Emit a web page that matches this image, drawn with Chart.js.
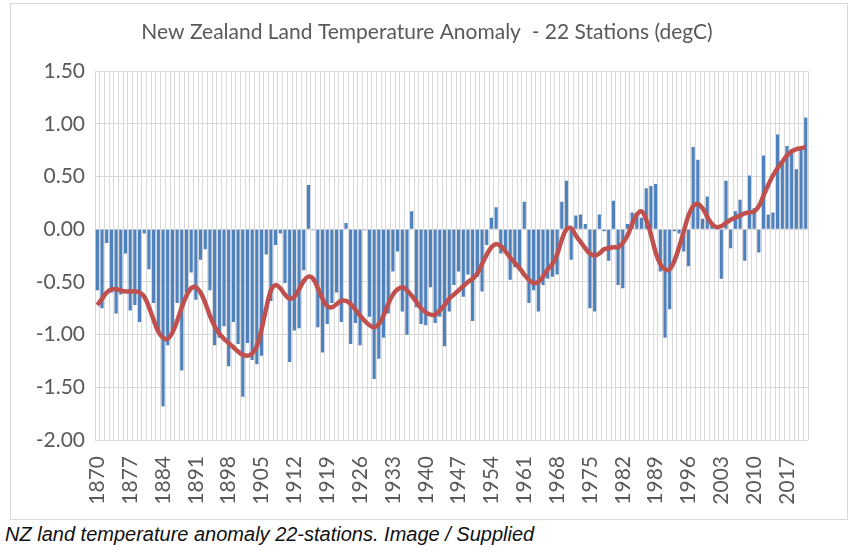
<!DOCTYPE html>
<html><head><meta charset="utf-8">
<script src="https://cdn.jsdelivr.net/npm/chart.js@4.4.0/dist/chart.umd.min.js"></script>
<style>
html,body{margin:0;padding:0;background:#fff;width:859px;height:554px;overflow:hidden}
#box{position:absolute;left:10px;top:3px;width:838px;height:517px;border:1px solid #d9d9d9;box-sizing:border-box}
#c{display:block}
#caption{position:absolute;left:5px;top:523px;font-family:"Liberation Sans",Arial,sans-serif;font-style:italic;font-size:20px;color:#111;white-space:nowrap}
</style></head><body>
<div id="box"><canvas id="c" width="836" height="515" style="width:836px;height:515px"></canvas></div>
<div id="caption">NZ land temperature anomaly 22-stations. Image / Supplied</div>
<script>
const years = [1870,1871,1872,1873,1874,1875,1876,1877,1878,1879,1880,1881,1882,1883,1884,1885,1886,1887,1888,1889,
1890,1891,1892,1893,1894,1895,1896,1897,1898,1899,1900,1901,1902,1903,1904,1905,1906,1907,1908,1909,
1910,1911,1912,1913,1914,1915,1916,1917,1918,1919,1920,1921,1922,1923,1924,1925,1926,1927,1928,1929,
1930,1931,1932,1933,1934,1935,1936,1937,1938,1939,1940,1941,1942,1943,1944,1945,1946,1947,1948,1949,
1950,1951,1952,1953,1954,1955,1956,1957,1958,1959,1960,1961,1962,1963,1964,1965,1966,1967,1968,1969,
1970,1971,1972,1973,1974,1975,1976,1977,1978,1979,1980,1981,1982,1983,1984,1985,1986,1987,1988,1989,
1990,1991,1992,1993,1994,1995,1996,1997,1998,1999,2000,2001,2002,2003,2004,2005,2006,2007,2008,2009,
2010,2011,2012,2013,2014,2015,2016,2017,2018,2019,2020,2021];

const anomaly = [-0.58,-0.75,-0.13,-0.60,-0.80,-0.62,-0.23,-0.77,-0.72,-0.88,
-0.04,-0.38,-0.70,-0.98,-1.68,-1.10,-0.97,-0.70,-1.34,-0.60,
-0.41,-0.67,-0.29,-0.19,-0.58,-1.10,-1.03,-0.92,-1.30,-0.88,
-1.09,-1.59,-1.08,-1.24,-1.28,-1.20,-0.24,-0.68,-0.15,-0.04,
-0.51,-1.26,-0.96,-0.94,-0.39,0.42,-0.01,-0.93,-1.17,-0.90,
-0.70,-0.60,-0.88,0.06,-1.09,-0.89,-1.10,-0.01,-0.83,-1.42,
-1.23,-1.03,-0.80,-0.40,-0.21,-0.78,-1.00,0.17,-0.74,-0.90,
-0.91,-0.55,-0.89,-0.83,-1.11,-0.78,-0.53,-0.40,-0.64,-0.43,
-0.87,-0.45,-0.59,-0.15,0.11,0.21,-0.23,-0.22,-0.48,-0.36,
-0.36,0.26,-0.70,-0.58,-0.78,-0.53,-0.47,-0.45,-0.43,0.26,
0.46,-0.29,0.13,0.14,0.05,-0.75,-0.78,0.14,-0.02,-0.30,
0.27,-0.53,-0.56,0.05,0.16,0.13,0.11,0.39,0.41,0.43,
-0.40,-1.03,-0.76,-0.02,-0.04,-0.21,-0.35,0.78,0.66,0.10,
0.31,0.04,0.04,-0.47,0.46,-0.18,0.17,0.28,-0.30,0.51,
0.20,-0.22,0.70,0.14,0.16,0.90,0.65,0.79,0.76,0.57,
0.76,1.06];

const smooth = [-0.72,-0.66,-0.60,-0.57,-0.57,-0.58,-0.59,-0.59,-0.59,-0.60,
-0.64,-0.74,-0.86,-0.97,-1.03,-1.04,-0.98,-0.87,-0.74,-0.63,
-0.56,-0.55,-0.60,-0.70,-0.82,-0.92,-0.99,-1.04,-1.08,-1.12,
-1.16,-1.19,-1.20,-1.18,-1.11,-0.95,-0.75,-0.58,-0.53,-0.56,
-0.62,-0.66,-0.64,-0.57,-0.49,-0.45,-0.47,-0.56,-0.66,-0.73,
-0.74,-0.71,-0.68,-0.68,-0.71,-0.76,-0.82,-0.87,-0.91,-0.93,
-0.90,-0.82,-0.71,-0.62,-0.57,-0.55,-0.58,-0.63,-0.69,-0.75,
-0.79,-0.81,-0.81,-0.77,-0.72,-0.66,-0.62,-0.58,-0.54,-0.50,
-0.47,-0.42,-0.33,-0.24,-0.17,-0.14,-0.16,-0.21,-0.27,-0.32,
-0.37,-0.43,-0.48,-0.51,-0.50,-0.45,-0.38,-0.33,-0.24,-0.10,
0.00,0.01,-0.06,-0.12,-0.18,-0.23,-0.25,-0.23,-0.19,-0.18,
-0.17,-0.17,-0.13,-0.06,0.05,0.14,0.17,0.09,-0.05,-0.22,
-0.33,-0.38,-0.38,-0.30,-0.17,-0.02,0.13,0.22,0.24,0.20,
0.12,0.05,0.02,0.03,0.06,0.09,0.11,0.13,0.15,0.16,
0.17,0.22,0.32,0.42,0.51,0.58,0.64,0.70,0.74,0.76,
0.77,0.78];

const tickYears = ['1870','1877','1884','1891','1898','1905','1912','1919','1926','1933','1940',
'1947','1954','1961','1968','1975','1982','1989','1996','2003','2010','2017'];
const yTicks = [1.5,1.0,0.5,0.0,-0.5,-1.0,-1.5,-2.0];

const grey = '#595959';
const gridCol = '#d9d9d9';

new Chart(document.getElementById('c'), {
  type: 'bar',
  data: {
    labels: years.map(String),
    datasets: [
      {type:'line', data: smooth, borderColor:'#c0504d', borderWidth:4.5, pointRadius:0,
       tension:0.4, fill:false, order:0},
      {type:'bar', data: anomaly, backgroundColor:'#4f81bd', borderWidth:0,
       categoryPercentage:1.0, barPercentage:0.68, order:1}
    ]
  },
  options: {
    responsive:false, animation:false, devicePixelRatio:1,
    layout:{padding:{left:12,right:16,top:0,bottom:0}},
    plugins:{
      legend:{display:false}, tooltip:{enabled:false},
      title:{display:true, text:'New Zealand Land Temperature Anomaly  - 22 Stations (degC)',
        color:grey, font:{family:'Lato', size:21, weight:'normal'}, padding:{top:16,bottom:26}}
    },
    scales:{
      x:{
        grid:{color:gridCol, offset:true, drawTicks:false, lineWidth:1},
        border:{display:false},
        ticks:{autoSkip:false, minRotation:90, maxRotation:90, padding:16, color:grey,
          font:{family:'Lato', size:21},
          callback:function(v,i){ const l=this.getLabelForValue(v); return tickYears.includes(l)?l:''; }},
        afterFit:(s)=>{s.height=79;}
      },
      y:{
        min:-2, max:1.5,
        grid:{color:gridCol, drawTicks:false, lineWidth:1},
        border:{display:false},
        afterBuildTicks:(s)=>{s.ticks = yTicks.map(v=>({value:v}));},
        ticks:{padding:10, color:grey, font:{family:'Lato', size:21},
          callback:(v)=>Number(v).toFixed(2)},
        afterFit:(s)=>{s.width=72;}
      }
    }
  }
});
</script>
</body></html>
